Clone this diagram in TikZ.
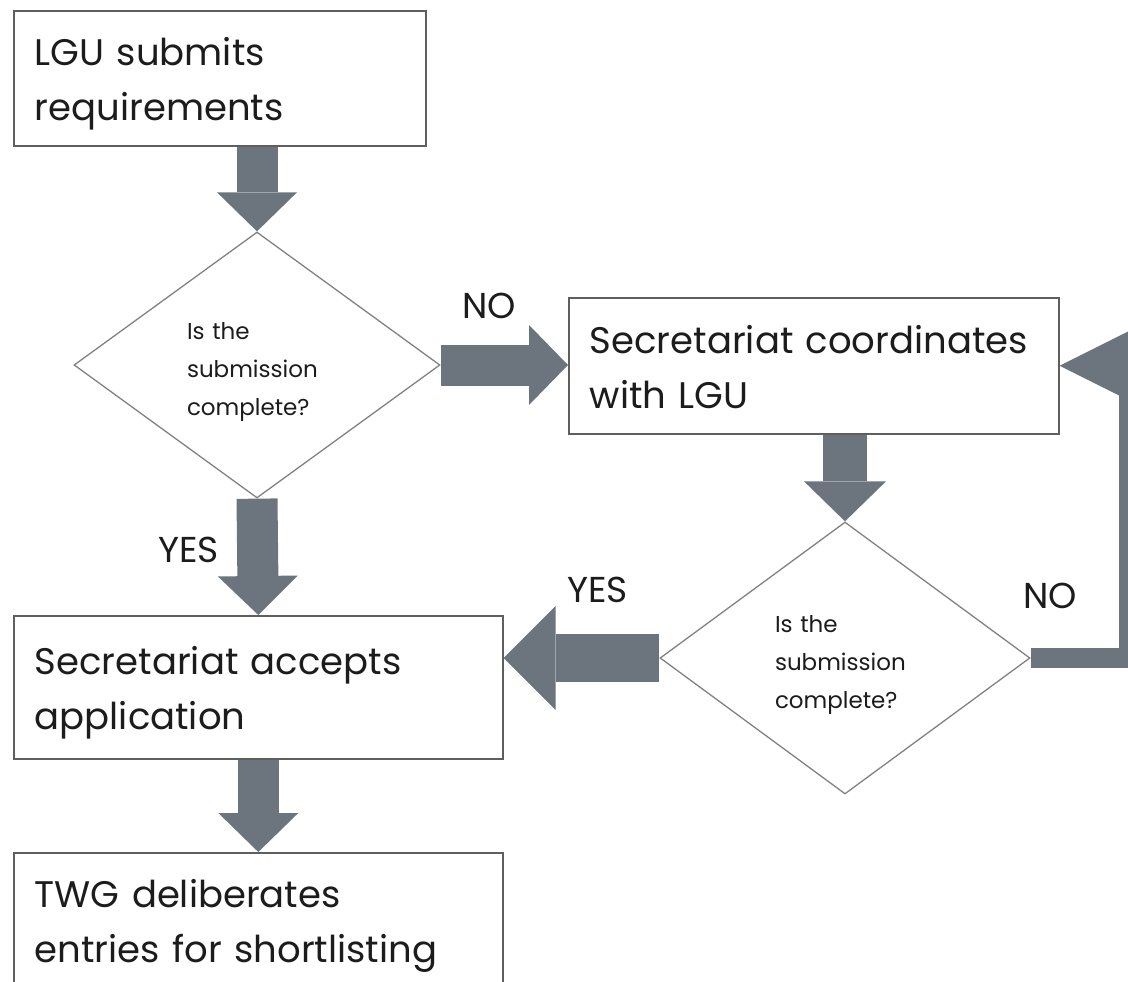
\documentclass[tikz,border=0pt]{standalone}
\usepackage{fontspec}
\setmainfont{Poppins}
\usetikzlibrary{arrows.meta,shapes.geometric,calc}
\definecolor{arrowgray}{RGB}{108,117,126}
\definecolor{boxline}{RGB}{95,95,95}
\definecolor{dialine}{RGB}{130,130,130}
\definecolor{ink}{RGB}{28,28,28}
\begin{document}
\begin{tikzpicture}[x=1pt,y=-1pt,
  stepbox/.style={draw=boxline, line width=1.6pt, fill=white, anchor=north west,
    align=left, inner xsep=21pt, inner ysep=0pt, text=ink,
    font=\fontsize{37}{55}\selectfont},
  decision/.style={draw=dialine, line width=1.3pt, diamond, inner sep=0pt,
    text width=140pt, align=left, text=ink, font=\fontsize{23}{38}\selectfont},
  flowlabel/.style={anchor=base west, inner sep=0pt, text=ink, font=\fontsize{36}{40}\selectfont},
  bigarrow/.style={draw=arrowgray, line width=41pt,
    -{Triangle[length=39pt,width=80pt,line width=0pt]}},
  wideshaft/.style={draw=arrowgray, line width=48pt,
    -{Triangle[length=52pt,width=104pt,line width=0pt]}},
  midshaft/.style={draw=arrowgray, line width=44pt,
    -{Triangle[length=40pt,width=82pt,line width=0pt]}},
  loopshaft/.style={draw=arrowgray, line width=20pt, line join=miter,
    -{Triangle[length=80pt,width=80pt,line width=0pt]}}
]
\useasboundingbox (0,0) rectangle (1128,982);
\fill[white] (0,0) rectangle (1128,982);

% boxes
\node[stepbox, minimum width=412pt, minimum height=135pt, text width=370pt] (b1) at (13,10)
  {\rule{0pt}{40pt}\mbox{LGU submits}\\\mbox{requirements}\rule[-10pt]{0pt}{10pt}};
\node[stepbox, minimum width=490pt, minimum height=136pt, text width=448pt] (b2) at (568,297)
  {\rule{0pt}{40pt}\mbox{Secretariat coordinates}\\\mbox{with LGU}\rule[-10pt]{0pt}{10pt}};
\node[stepbox, minimum width=489pt, minimum height=143pt, text width=447pt] (b3) at (13,615)
  {\rule{0pt}{40pt}\mbox{Secretariat accepts}\\\mbox{application}\rule[-10pt]{0pt}{10pt}};
\node[stepbox, minimum width=489pt, minimum height=135pt, text width=447pt] (b4) at (13,852)
  {\rule{0pt}{40pt}\mbox{TWG deliberates}\\\mbox{entries for shortlisting}\rule[-10pt]{0pt}{10pt}};

% decisions
\node[decision, minimum width=366pt, minimum height=266pt] (d1) at (257,365)
  {\rule{0pt}{31pt}Is the\\submission\\complete?};
\node[decision, minimum width=370pt, minimum height=272pt] (d2) at (845,658)
  {\rule{0pt}{31pt}Is the\\submission\\complete?};

% connectors
\draw[bigarrow] (d1.north |- b1.south) -- (d1.north);
\draw[bigarrow] (d1.east) -- (d1.east -| b2.west);
\draw[midshaft] (d2.north |- b2.south) -- (d2.north);
\draw[bigarrow] (d1.south) -- (b3.north);
\draw[wideshaft] (d2.west) -- (d2.west -| b3.east);
\draw[bigarrow] (b3.south) -- (b4.north);
\coordinate (loopcorner) at ($(d2.east)+(98,0)$);
\draw[loopshaft] (d2.east) -- (loopcorner) |- (b2.east);

% labels
\node[flowlabel] (no1) at (462,318) {NO};
\node[flowlabel] (yes1) at (158,562) {YES};
\node[flowlabel] (yes2) at (567,602) {YES};
\node[flowlabel] (no2) at (1023,608) {NO};
\end{tikzpicture}
\end{document}
